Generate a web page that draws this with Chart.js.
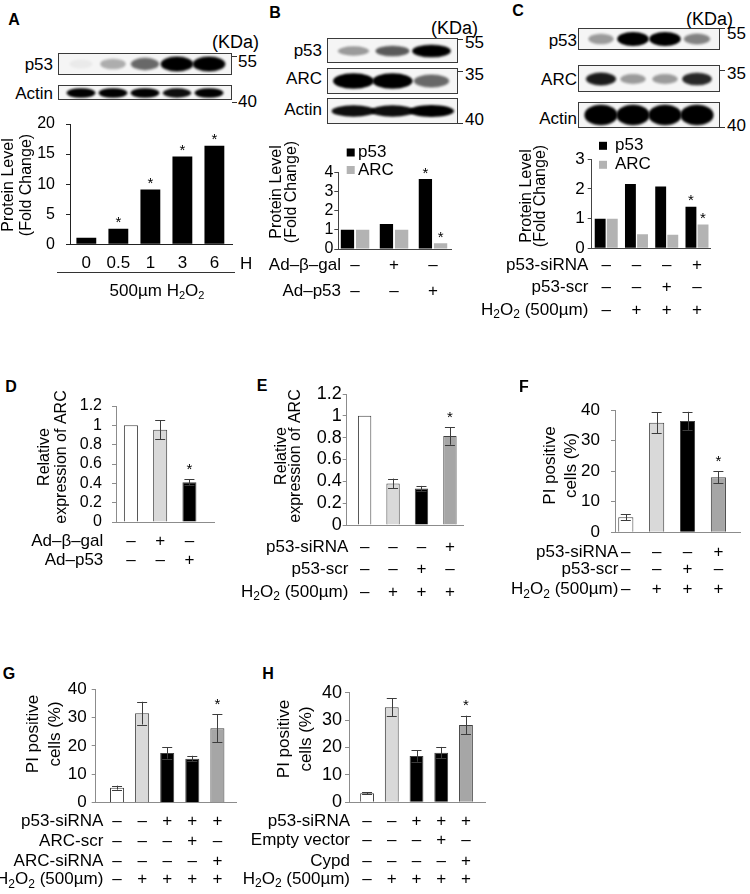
<!DOCTYPE html>
<html>
<head>
<meta charset="utf-8">
<script src="https://cdn.jsdelivr.net/npm/chart.js@4.4.1/dist/chart.umd.min.js"></script>
<style>
  body { margin: 0; width: 750px; height: 894px; position: relative; overflow: hidden; background: #fff;
         font-family: "Liberation Sans", Arial, Helvetica, sans-serif; color: #000; }
  .t { position: absolute; white-space: nowrap; line-height: 1; }
  .blot { position: absolute; border: 1px solid #3a3a3a; background: #f5f5f5; box-sizing: border-box; overflow: hidden; }
  .blot canvas { position: absolute; left: 0; }
  .hl { position: absolute; background: #333; height: 1px; }
  sub { font-size: 11px; vertical-align: -3px; line-height: 0; }
</style>
</head>
<body>
<script>
// ---- data ----
// A: p53 level after H2O2 (hours)
const catsA = ['0', '0.5', '1', '3', '6'];
const p53A = [1.1, 2.6, 9.1, 14.6, 16.4];
const starA = [0, 1, 1, 1, 1];

// B: Ad-b-gal / Ad-p53
const p53B = [1.0, 1.3, 3.65];
const arcB = [1.0, 1.0, 0.3];
const starB_p53 = [0, 0, 1];
const starB_arc = [0, 0, 1];

// C: p53-siRNA
const p53C = [1.0, 2.17, 2.08, 1.4];
const arcC = [1.0, 0.47, 0.46, 0.8];
const starC_p53 = [0, 0, 0, 1];
const starC_arc = [0, 0, 0, 1];

// D
const arcD = [1.0, 0.955, 0.41];
const errD = [0, 0.1, 0.03];
const starD = [0, 0, 1];

// E
const arcE = [1.0, 0.38, 0.335, 0.815];
const errE = [0, 0.045, 0.023, 0.08];
const starE = [0, 0, 0, 1];

// F
const piF = [4.9, 35.8, 36.4, 18.0];
const errF = [1.0, 3.4, 3.0, 2.0];
const starF = [0, 0, 0, 1];

// G
const piG = [5.3, 31.5, 17.5, 15.5, 26.2];
const errG = [0.7, 4.0, 2.0, 1.0, 5.0];
const starG = [0, 0, 0, 0, 1];

// H
const piH = [3.3, 34.7, 16.9, 18.1, 28.2];
const errH = [0.3, 3.2, 2.1, 2.1, 3.4];
const starH = [0, 0, 0, 0, 1];

// treatment rows (sign tables under the bars)
const rowsBD = ['Ad–β–gal', 'Ad–p53'];
const signsBD = [['–', '+', '–'], ['–', '–', '+']];
const rowsCEF = ['p53-siRNA', 'p53-scr', 'H₂O₂ (500µm)'];
const signsCEF = [['–', '–', '–', '+'], ['–', '–', '+', '–'], ['–', '+', '+', '+']];
const rowsG = ['p53-siRNA', 'ARC-scr', 'ARC-siRNA', 'H₂O₂ (500µm)'];
const rowsH = ['p53-siRNA', 'Empty vector', 'Cypd', 'H₂O₂ (500µm)'];
const signsGH = [['–', '–', '+', '+', '+'], ['–', '–', '–', '+', '–'], ['–', '–', '–', '–', '+'], ['–', '+', '+', '+', '+']];

// western blot band intensities per lane (0..1)
const blotA_p53 = [0.04, 0.28, 0.55, 1, 1];
const blotA_actin = [0.95, 0.95, 0.95, 0.9, 0.95];
const blotB_p53 = [0.35, 0.6, 1];
const blotB_arc = [1, 0.95, 0.55];
const blotB_actin = [0.9, 0.9, 1];
const blotC_p53 = [0.35, 1, 1, 0.45];
const blotC_arc = [0.85, 0.35, 0.35, 0.8];
const blotC_actin = [1, 1, 1, 1];

Chart.defaults.font.family = '"Liberation Sans", Arial, Helvetica, sans-serif';
Chart.defaults.color = '#000';
Chart.defaults.animation = false;

const FAM = '"Liberation Sans", Arial, Helvetica, sans-serif';

// ---- html text helpers ----
function txt(html, x, y, size, align, bold) {
  const d = document.createElement('div');
  d.className = 't';
  d.innerHTML = html;
  const tx = align === 'right' ? '-100%' : align === 'center' ? '-50%' : '0';
  d.style.cssText = `left:${x}px;top:${y}px;font-size:${size}px;transform:translate(${tx},-50%);` +
    (bold ? 'font-weight:bold;' : '');
  document.body.appendChild(d);
}
function hline(x1, x2, y) {
  const d = document.createElement('div');
  d.className = 'hl';
  d.style.cssText = `left:${x1}px;top:${y}px;width:${x2 - x1}px`;
  document.body.appendChild(d);
}

// ---- canvas rich text (subscript 2) ----
function drawRich(ctx, s, x, y, size, align) {
  const parts = [];
  let buf = '';
  for (const ch of s) {
    if (ch === '₂') { if (buf) parts.push([buf, false]); parts.push(['2', true]); buf = ''; }
    else buf += ch;
  }
  if (buf) parts.push([buf, false]);
  const fN = size + 'px ' + FAM, fS = Math.round(size * 0.68) + 'px ' + FAM;
  let w = 0;
  parts.forEach(p => { ctx.font = p[1] ? fS : fN; w += ctx.measureText(p[0]).width; });
  let cx = align === 'right' ? x - w : align === 'center' ? x - w / 2 : x;
  ctx.textAlign = 'left';
  ctx.textBaseline = 'middle';
  parts.forEach(p => {
    ctx.font = p[1] ? fS : fN;
    ctx.fillText(p[0], cx, y + (p[1] ? size * 0.3 : 0));
    cx += ctx.measureText(p[0]).width;
  });
}

// error bars, stars, legend, titles and sign rows
function makeDecor(P) {
  return {
    id: 'decor',
    afterDatasetsDraw(chart) {
      const ctx = chart.ctx, xs = chart.scales.x, ys = chart.scales.y;
      ctx.save();
      ctx.fillStyle = '#000';
      chart.data.datasets.forEach((ds, di) => {
        const meta = chart.getDatasetMeta(di);
        meta.data.forEach((bar, i) => {
          const v = ds.data[i].y;
          const e = ds.err ? ds.err[i] : 0;
          let top = ys.getPixelForValue(v);
          if (e) {
            const y1 = ys.getPixelForValue(v + e), y2 = ys.getPixelForValue(v - e);
            ctx.strokeStyle = '#3c3c3c';
            ctx.lineWidth = 1;
            ctx.beginPath();
            ctx.moveTo(Math.round(bar.x) + 0.5, y1); ctx.lineTo(Math.round(bar.x) + 0.5, y2);
            ctx.moveTo(bar.x - 5, Math.round(y1) + 0.5); ctx.lineTo(bar.x + 5, Math.round(y1) + 0.5);
            ctx.moveTo(bar.x - 5, Math.round(y2) + 0.5); ctx.lineTo(bar.x + 5, Math.round(y2) + 0.5);
            ctx.stroke();
            top = y1;
          }
          if (ds.star && ds.star[i]) {
            ctx.font = '15px ' + FAM;
            ctx.textAlign = 'center';
            ctx.textBaseline = 'alphabetic';
            ctx.fillText('*', bar.x, top - (e ? 14 : 10) + 8.5);
          }
        });
      });
      if (P.legend) {
        const lg = P.legend;
        chart.data.datasets.forEach((ds, k) => {
          const y = lg.ys[k] - P.ct;
          ctx.fillStyle = ds.backgroundColor;
          ctx.fillRect(lg.x - P.cl, y - 4, 8, 8);
          ctx.fillStyle = '#000';
          drawRich(ctx, ds.label, lg.tx - P.cl, y, lg.font, 'left');
        });
      }
      if (P.title) {
        const t = P.title;
        ctx.font = t.font + 'px ' + FAM;
        ctx.textAlign = 'center';
        ctx.textBaseline = 'middle';
        t.lines.forEach((s, k) => {
          ctx.save();
          ctx.translate(t.xs[k] - P.cl, t.yc - P.ct);
          ctx.rotate(-Math.PI / 2);
          ctx.fillText(s, 0, 0);
          ctx.restore();
        });
      }
      if (P.rows) {
        const r = P.rows;
        r.ys.forEach((py, k) => {
          const y = py - P.ct;
          if (r.labels[k]) drawRich(ctx, r.labels[k], r.right - P.cl, y, r.font, 'right');
          r.signs[k].forEach((s, i) => drawRich(ctx, s, xs.getPixelForValue(i + 1), y, r.font, 'center'));
        });
      }
      ctx.restore();
    }
  };
}

function barPanel(P) {
  const cv = document.createElement('canvas');
  cv.width = P.cw; cv.height = P.ch;
  cv.style.cssText = `position:absolute;left:${P.cl}px;top:${P.ct}px;width:${P.cw}px;height:${P.ch}px`;
  document.body.appendChild(cv);
  new Chart(cv, {
    type: 'bar',
    data: {
      datasets: P.sets.map(s => ({
        label: s.label || '',
        data: s.values.map((v, i) => ({ x: i + 1, y: v })),
        err: s.err, star: s.star,
        backgroundColor: s.colors,
        borderColor: s.border || 'rgba(0,0,0,0)',
        borderWidth: s.border ? 1 : 0,
        categoryPercentage: P.catPct,
        barPercentage: P.barPct
      }))
    },
    options: {
      responsive: false,
      animation: false,
      events: [],
      layout: { padding: { left: 0, top: P.T - P.ct, right: P.cl + P.cw - P.R, bottom: P.ct + P.ch - P.B } },
      plugins: { legend: { display: false }, tooltip: { enabled: false } },
      scales: {
        x: {
          type: 'linear', offset: false, min: P.xmin, max: P.xmax,
          grid: { display: false },
          border: { display: true, color: P.axis, width: 1 },
          ticks: { display: false, stepSize: 1, includeBounds: false },
          afterFit: s => { s.height = 0; }
        },
        y: {
          min: 0, max: P.ymax,
          grid: { display: true, drawOnChartArea: false, drawTicks: true, tickLength: 4, color: P.axis },
          border: { display: true, color: P.axis, width: 1 },
          ticks: { stepSize: P.step, padding: P.tickPad, font: { size: P.tickFont }, color: '#000',
                   autoSkip: false, callback: v => String(+v.toFixed(1)) },
          afterFit: s => { s.width = P.L - P.cl; }
        }
      }
    },
    plugins: [makeDecor(P)]
  });
}

// band image for a blot lane
function bandImg(w, h, a) {
  const c = document.createElement('canvas');
  c.width = Math.ceil(w + 8); c.height = Math.ceil(h + 8);
  const g = c.getContext('2d');
  g.filter = 'blur(1.2px)';
  g.fillStyle = `rgba(0,0,0,${Math.min(1, a * 1.05)})`;
  g.beginPath();
  g.ellipse(c.width / 2, c.height / 2, w / 2, h / 2, 0, 0, Math.PI * 2);
  g.fill();
  return c;
}

// blot strip: the canvas is kept at least 40px tall and centred in the box (box clips it)
function blot(x, y, w, h, lanes, wf, hf) {
  const box = document.createElement('div');
  box.className = 'blot';
  box.style.cssText = `left:${x}px;top:${y}px;width:${w}px;height:${h}px`;
  const inner = h - 2;
  const ch = Math.max(inner, 40);
  const cv = document.createElement('canvas');
  cv.width = w - 2; cv.height = ch;
  cv.style.cssText = `width:${w - 2}px;height:${ch}px;top:${(inner - ch) / 2}px`;
  box.appendChild(cv);
  document.body.appendChild(box);
  const laneW = (w - 2) / lanes.length;
  new Chart(cv, {
    type: 'scatter',
    data: {
      datasets: [{
        data: lanes.map((a, i) => ({ x: i + 1, y: 0 })),
        pointStyle: lanes.map(a => bandImg(laneW * wf * (0.7 + 0.3 * a), inner * hf * (0.6 + 0.4 * a), a)),
        pointRadius: 5,
        clip: false
      }]
    },
    options: {
      responsive: false, animation: false, events: [],
      layout: { padding: 0 },
      plugins: { legend: { display: false }, tooltip: { enabled: false } },
      scales: {
        x: { display: false, min: 0.5, max: lanes.length + 0.5 },
        y: { display: false, min: -1, max: 1 }
      }
    }
  });
}

// ---- panel A ----
txt('A', 14, 20, 16, 'center', true);
txt('(KDa)', 212, 42, 18, 'left');
blot(58, 53, 174, 22, blotA_p53, 0.95, 0.75);
blot(58, 85, 174, 15, blotA_actin, 0.85, 0.75);
txt('p53', 53, 64, 17, 'right');
txt('Actin', 53, 92.5, 17, 'right');
hline(232, 237, 56); txt('55', 238, 61, 17, 'left');
hline(232, 237, 102); txt('40', 238, 101, 17, 'left');
barPanel({
  cl: 0, ct: 100, cw: 250, ch: 175, L: 70, T: 124, R: 232, B: 244.3,
  xmin: 0.49, xmax: 5.55, ymax: 20, step: 5, tickFont: 16, tickPad: 11, axis: '#222',
  catPct: 1, barPct: 0.62,
  sets: [{ label: 'p53', values: p53A, colors: '#000', star: starA }],
  rows: { labels: [''], signs: [catsA], ys: [263], right: 0, font: 17 },
  title: { lines: ['Protein Level', '(Fold Change)'], xs: [8.3, 26.7], yc: 185, font: 16 }
});
txt('H', 240, 263, 17, 'left');
hline(57, 235, 272);
txt('500µm H<sub>2</sub>O<sub>2</sub>', 157, 290, 17, 'center');

// ---- panel B ----
txt('B', 275, 12.5, 16, 'center', true);
txt('(KDa)', 431, 27.5, 18, 'left');
blot(327, 38, 131, 25, blotB_p53, 0.9, 0.55);
blot(327, 68, 131, 26, blotB_arc, 0.95, 0.65);
blot(327, 98, 131, 26, blotB_actin, 1.05, 0.5);
txt('p53', 322, 50, 17, 'right');
txt('ARC', 322, 78, 17, 'right');
txt('Actin', 322, 109, 17, 'right');
hline(458, 463, 39); txt('55', 465, 42, 17, 'left');
hline(458, 463, 71); txt('35', 465, 74, 17, 'left');
hline(458, 463, 123); txt('40', 465, 119, 17, 'left');
barPanel({
  cl: 250, ct: 130, cw: 250, ch: 180, L: 338.3, T: 172.3, R: 451.7, B: 249,
  xmin: 0.57, xmax: 3.48, ymax: 4, step: 1, tickFont: 16, tickPad: 1, axis: '#444',
  catPct: 0.78, barPct: 0.875,
  sets: [{ label: 'p53', values: p53B, colors: '#000', star: starB_p53 },
         { label: 'ARC', values: arcB, colors: '#b3b3b3', star: starB_arc }],
  legend: { x: 346.7, ys: [152.5, 170], tx: 358, font: 17 },
  rows: { labels: rowsBD, signs: signsBD, ys: [265, 291.7], right: 341, font: 17 },
  title: { lines: ['Protein Level', '(Fold Change)'], xs: [276.7, 291.7], yc: 192, font: 16 }
});

// ---- panel C ----
txt('C', 518, 10.5, 16, 'center', true);
txt('(KDa)', 686, 19, 18, 'left');
blot(578, 28, 142, 22, blotC_p53, 0.9, 0.7);
blot(578, 65, 142, 27, blotC_arc, 0.9, 0.55);
blot(578, 102, 142, 26, blotC_actin, 0.95, 0.85);
txt('p53', 577, 40, 17, 'right');
txt('ARC', 577, 79, 17, 'right');
txt('Actin', 577, 117.5, 17, 'right');
hline(720, 725, 28); txt('55', 727, 33, 17, 'left');
hline(720, 725, 70); txt('35', 727, 73, 17, 'left');
hline(720, 725, 127); txt('40', 727, 125, 17, 'left');
barPanel({
  cl: 470, ct: 130, cw: 280, ch: 195, L: 591.7, T: 159.3, R: 710, B: 248.3,
  xmin: 0.52, xmax: 4.43, ymax: 3, step: 1, tickFont: 17, tickPad: 3, axis: '#444',
  catPct: 0.8, barPct: 0.9,
  sets: [{ label: 'p53', values: p53C, colors: '#000', star: starC_p53 },
         { label: 'ARC', values: arcC, colors: '#b3b3b3', star: starC_arc }],
  legend: { x: 599, ys: [145.8, 164.8], tx: 615, font: 17 },
  rows: { labels: rowsCEF, signs: signsCEF, ys: [265, 287, 310], right: 588.3, font: 17 },
  title: { lines: ['Protein Level', '(Fold Change)'], xs: [526.7, 541], yc: 196, font: 16 }
});

// ---- panel D ----
txt('D', 11, 386.7, 16, 'center', true);
barPanel({
  cl: 0, ct: 380, cw: 250, ch: 200, L: 116, T: 406, R: 214, B: 522,
  xmin: 0.49, xmax: 3.84, ymax: 1.2, step: 0.2, tickFont: 16, tickPad: 10, axis: '#8c8c8c',
  catPct: 1, barPct: 0.48,
  sets: [{ values: arcD, err: errD, star: starD, colors: ['#fff', '#d9d9d9', '#000'], border: '#404040' }],
  rows: { labels: rowsBD, signs: signsBD, ys: [541.7, 560], right: 103.3, font: 17 },
  title: { lines: ['Relative', 'expression of ARC'], xs: [45, 61.7], yc: 457, font: 16 }
});

// ---- panel E ----
txt('E', 262, 386, 16, 'center', true);
barPanel({
  cl: 230, ct: 380, cw: 270, ch: 230, L: 346.7, T: 394, R: 463.3, B: 525,
  xmin: 0.37, xmax: 4.47, ymax: 1.2, step: 0.2, tickFont: 18, tickPad: 1, axis: '#8c8c8c',
  catPct: 1, barPct: 0.47,
  sets: [{ values: arcE, err: errE, star: starE, colors: ['#fff', '#d9d9d9', '#000', '#a6a6a6'], border: '#404040' }],
  rows: { labels: rowsCEF, signs: signsCEF, ys: [547, 569, 592], right: 348.3, font: 17 },
  title: { lines: ['Relative', 'expression of ARC'], xs: [281.7, 295.8], yc: 456, font: 16 }
});

// ---- panel F ----
txt('F', 524, 386.7, 16, 'center', true);
barPanel({
  cl: 480, ct: 380, cw: 270, ch: 230, L: 615, T: 410, R: 740, B: 532.3,
  xmin: 0.65, xmax: 4.70, ymax: 40, step: 10, tickFont: 17, tickPad: 11, axis: '#8c8c8c',
  catPct: 1, barPct: 0.49,
  sets: [{ values: piF, err: errF, star: starF, colors: ['#fff', '#d9d9d9', '#000', '#a6a6a6'], border: '#404040' }],
  rows: { labels: rowsCEF, signs: signsCEF, ys: [552.7, 569.3, 589.3], right: 618.3, font: 17 },
  title: { lines: ['PI positive', 'cells (%)'], xs: [550.8, 571.7], yc: 465.5, font: 17 }
});

// ---- panel G ----
txt('G', 9, 674, 16, 'center', true);
barPanel({
  cl: 0, ct: 660, cw: 250, ch: 234, L: 95.7, T: 689, R: 236.7, B: 802.7,
  xmin: 0.15, xmax: 5.77, ymax: 40, step: 10, tickFont: 17, tickPad: 5, axis: '#8c8c8c',
  catPct: 1, barPct: 0.56,
  sets: [{ values: piG, err: errG, star: starG, colors: ['#fff', '#d9d9d9', '#000', '#000', '#a6a6a6'], border: '#404040' }],
  rows: { labels: rowsG, signs: signsGH, ys: [821.7, 841.7, 861, 879.3], right: 103.3, font: 17 },
  title: { lines: ['PI positive', 'cells (%)'], xs: [33.3, 55], yc: 734, font: 17 }
});

// ---- panel H ----
txt('H', 268, 674, 16, 'center', true);
barPanel({
  cl: 240, ct: 660, cw: 260, ch: 234, L: 349, T: 692.7, R: 485, B: 802.3,
  xmin: 0.27, xmax: 5.77, ymax: 40, step: 10, tickFont: 18, tickPad: 3, axis: '#8c8c8c',
  catPct: 1, barPct: 0.56,
  sets: [{ values: piH, err: errH, star: starH, colors: ['#fff', '#d9d9d9', '#000', '#000', '#a6a6a6'], border: '#404040' }],
  rows: { labels: rowsH, signs: signsGH, ys: [821, 840, 861, 879], right: 350, font: 17 },
  title: { lines: ['PI positive', 'cells (%)'], xs: [284, 306.7], yc: 739, font: 17 }
});
</script>
</body>
</html>
